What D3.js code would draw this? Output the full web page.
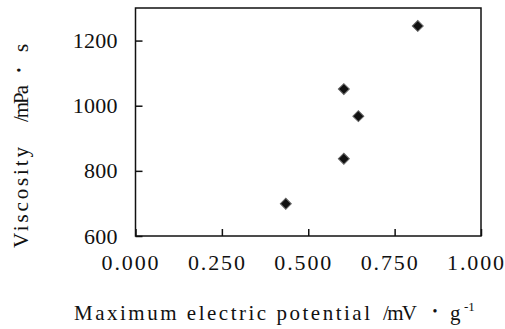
<!DOCTYPE html>
<html>
<head>
<meta charset="utf-8">
<script src="https://cdn.jsdelivr.net/npm/d3@7"></script>
<style>
  body { margin: 0; background: #fff; }
  svg text { font-family: "Liberation Serif", "Times New Roman", serif; fill: #111; }
</style>
</head>
<body>
<div id="chart"></div>
<script>
// data
var potential = [0.435, 0.603, 0.603, 0.645, 0.817];
var viscosity = [699, 837, 1051, 968, 1245];
var xTicks = [0, 0.25, 0.5, 0.75, 1.0];
var yTicks = [600, 800, 1000, 1200];

var W = 505, H = 329;
var margin = { top: 8, right: 24, bottom: 93, left: 135.5 };
var serif = '"Liberation Serif", "Times New Roman", serif';

var svg = d3.select("#chart").append("svg")
    .attr("width", W)
    .attr("height", H);

var x = d3.scaleLinear().domain([0, 1]).range([margin.left, W - margin.right]);
var y = d3.scaleLinear().domain([600, 1300]).range([H - margin.bottom, margin.top]);

// x axis, ticks point inward
var gx = svg.append("g")
    .attr("transform", "translate(0," + (H - margin.bottom) + ")")
    .call(d3.axisBottom(x).tickValues(xTicks).tickFormat(d3.format(".3f"))
        .tickSizeInner(-7).tickSizeOuter(0).tickPadding(18));
gx.attr("font-family", null).attr("font-size", null);
gx.select(".domain").remove();
gx.selectAll(".tick line").attr("stroke", "#111").attr("stroke-width", 1.5);
gx.selectAll(".tick text")
    .style("font-size", "22px")
    .style("font-family", serif)
    .attr("x", -6)
    .attr("textLength", 57)
    .attr("lengthAdjust", "spacing");

// y axis
var gy = svg.append("g")
    .attr("transform", "translate(" + margin.left + ",0)")
    .call(d3.axisLeft(y).tickValues(yTicks).tickFormat(d3.format("d"))
        .tickSizeInner(-7).tickSizeOuter(0).tickPadding(18));
gy.attr("font-family", null).attr("font-size", null);
gy.select(".domain").remove();
gy.selectAll(".tick line").attr("stroke", "#111").attr("stroke-width", 1.5);
gy.selectAll(".tick text")
    .style("font-size", "22px")
    .style("font-family", serif)
    .attr("textLength", function (d) { return String(d).length * 11.2; })
    .attr("lengthAdjust", "spacing");

// plot frame
svg.append("rect")
    .attr("x", x(0))
    .attr("y", y(1300))
    .attr("width", x(1) - x(0))
    .attr("height", y(600) - y(1300))
    .attr("fill", "none")
    .attr("stroke", "#111")
    .attr("stroke-width", 1.5);

// markers
var diamond = d3.symbol().type(d3.symbolSquare).size(60);
svg.append("g")
    .selectAll("path")
    .data(potential)
    .enter()
    .append("path")
    .attr("d", diamond)
    .attr("transform", function (d, i) { return "translate(" + x(d) + "," + y(viscosity[i]) + ") rotate(45)"; })
    .attr("fill", "#111")
    .attr("stroke", "#666")
    .attr("stroke-width", 1);

// x title
var tx = svg.append("g").style("font-size", "21px");
tx.append("text").attr("x", 74).attr("y", 320)
    .attr("textLength", 296).attr("lengthAdjust", "spacing")
    .text("Maximum electric potential");
tx.append("text").attr("x", 383).attr("y", 320)
    .attr("textLength", 34).attr("lengthAdjust", "spacing")
    .text("/mV");
tx.append("text").attr("x", 435).attr("y", 316).attr("text-anchor", "middle")
    .style("font-size", "14px")
    .text("•");
tx.append("text").attr("x", 450).attr("y", 320).text("g");
tx.append("text").attr("x", 464).attr("y", 311).style("font-size", "13px").text("-1");

// y title (rotated)
var ty = svg.append("g").style("font-size", "21px")
    .attr("transform", "translate(28,0) rotate(-90)");
ty.append("text").attr("x", -248).attr("y", 0)
    .attr("textLength", 101).attr("lengthAdjust", "spacing")
    .text("Viscosity");
ty.append("text").attr("x", -122).attr("y", 0)
    .attr("textLength", 37).attr("lengthAdjust", "spacing")
    .text("/mPa");
ty.append("text").attr("x", -70).attr("y", -4).attr("text-anchor", "middle")
    .style("font-size", "14px")
    .text("•");
ty.append("text").attr("x", -52).attr("y", 0).text("s");
</script>
</body>
</html>
